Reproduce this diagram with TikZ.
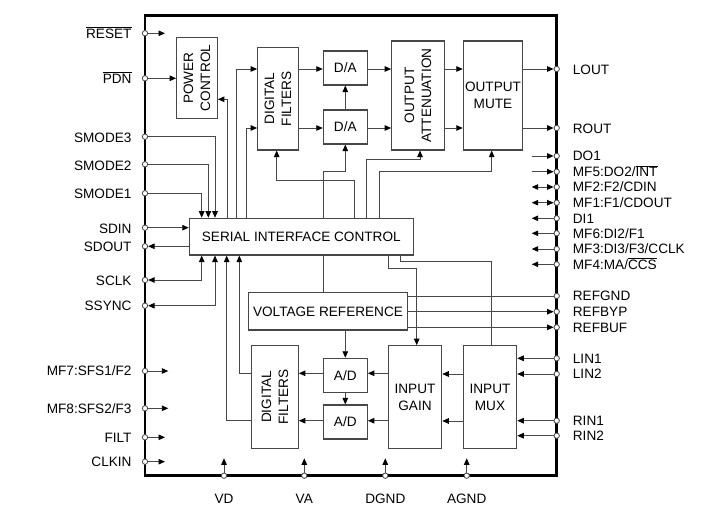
\documentclass[tikz,border=0pt]{standalone}
\usepackage{fontspec}
\setmainfont{Liberation Sans}
\usetikzlibrary{arrows.meta}
\begin{document}
\begin{tikzpicture}[x=1bp,y=-1bp,
  font=\fontsize{13.6bp}{17bp}\selectfont,
  ln/.style={draw=black!72, line width=0.9bp},
  tipa/.tip={Triangle[length=6.5bp,width=5.5bp,black]},
  arr/.style={ln, -tipa},
  barr/.style={ln, tipa-tipa},
  blk/.style={draw=black!72, line width=1.1bp, inner sep=0pt},
  txt/.style={inner sep=0pt, align=center},
  rtxt/.style={inner sep=0pt, align=center, rotate=90},
  pin/.style={circle, draw=black!72, fill=white, line width=0.8bp, inner sep=0pt, minimum size=5.4bp},
  lbl/.style={inner sep=0pt, text height=9.7bp, text depth=0bp}
]
\useasboundingbox (0,0) rectangle (720,516);

% chip outline
\node[draw=black, line width=2.6bp, minimum width=411.7bp, minimum height=460bp, inner sep=0pt] (chip) at (350.85,245.7) {};

% ---------- blocks ----------
\node[blk, minimum width=40.6bp, minimum height=80.6bp] (pc) at (197,78) {};
\node[rtxt] (pct) at (pc.center) {POWER\\CONTROL};
\node[blk, minimum width=40.6bp, minimum height=102.7bp] (df1) at (278,98.65) {};
\node[rtxt] (df1t) at (df1.center) {DIGITAL\\FILTERS};
\node[blk, minimum width=44bp, minimum height=34bp] (da1) at (345.3,68) {};
\node[txt] (da1t) at (da1.center) {D/A};
\node[blk, minimum width=44bp, minimum height=34bp] (da2) at (345.3,127) {};
\node[txt] (da2t) at (da2.center) {D/A};
\node[blk, minimum width=52.6bp, minimum height=109bp] (oa) at (418,95.5) {};
\node[rtxt] (oat) at (oa.center) {OUTPUT\\ATTENUATION};
\node[blk, minimum width=59.4bp, minimum height=109bp] (om) at (493,95.5) {};
\node[txt] (omt) at (om.center) {OUTPUT\\MUTE};
\node[blk, minimum width=224bp, minimum height=36.7bp] (sic) at (301.3,236.65) {};
\node[txt] (sict) at (sic.center) {SERIAL INTERFACE CONTROL};
\node[blk, minimum width=158.6bp, minimum height=37.3bp] (vref) at (328,311.35) {};
\node[txt] (vreft) at (vref.center) {VOLTAGE REFERENCE};
\node[blk, minimum width=46.6bp, minimum height=102.6bp] (df2) at (275,397) {};
\node[rtxt] (df2t) at (df2.center) {DIGITAL\\FILTERS};
\node[blk, minimum width=44bp, minimum height=34bp] (ad1) at (345.3,375.3) {};
\node[txt] (ad1t) at (ad1.center) {A/D};
\node[blk, minimum width=44bp, minimum height=34bp] (ad2) at (345.3,422) {};
\node[txt] (ad2t) at (ad2.center) {A/D};
\node[blk, minimum width=53.4bp, minimum height=102.6bp] (ig) at (415,397) {};
\node[txt] (igt) at (ig.center) {INPUT\\GAIN};
\node[blk, minimum width=53.4bp, minimum height=102.6bp] (im) at (490,397) {};
\node[txt] (imt) at (im.center) {INPUT\\MUX};

% ---------- left pins ----------
\foreach \n/\y in {RESET/33.3, PDN/78.3, SMODE3/136.7, SMODE2/164.3, SMODE1/193.3, SDIN/227.7, SDOUT/246.3, SCLK/280, SSYNC/305.7, MFsev/371, MFeig/408.3, FILT/437.3, CLKIN/461.7}
  \node[pin] (p\n) at (145,\y) {};
\node[lbl, anchor=east] (lRESET) at (131.7,33.3) {$\overline{\hbox{RESET}}$};
\node[lbl, anchor=east] (lPDN) at (131.7,78.3) {$\overline{\hbox{PDN}}$};
\node[lbl, anchor=east] (lSMODE3) at (131.7,137.5) {SMODE3};
\node[lbl, anchor=east] (lSMODE2) at (131.7,165.3) {SMODE2};
\node[lbl, anchor=east] (lSMODE1) at (131.7,194) {SMODE1};
\node[lbl, anchor=east] (lSDIN) at (131.7,228.5) {SDIN};
\node[lbl, anchor=east] (lSDOUT) at (131.7,246.5) {SDOUT};
\node[lbl, anchor=east] (lSCLK) at (131.7,281) {SCLK};
\node[lbl, anchor=east] (lSSYNC) at (131.7,305.7) {SSYNC};
\node[lbl, anchor=east] (lMFsev) at (131.7,371) {MF7:SFS1/F2};
\node[lbl, anchor=east] (lMFeig) at (131.7,408.3) {MF8:SFS2/F3};
\node[lbl, anchor=east] (lFILT) at (131.7,437.3) {FILT};
\node[lbl, anchor=east] (lCLKIN) at (131.7,461.7) {CLKIN};

% ---------- right pins ----------
\foreach \n/\y in {LOUT/69, ROUT/128, DOone/156, MFfive/171.7, MFtwo/187, MFone/202.7, DIone/218.3, MFsix/233.3, MFthree/249, MFfour/264.3, REFGND/296, REFBYP/311.7, REFBUF/327.3, LINone/358.3, LINtwo/374, RINone/420.7, RINtwo/435.7}
  \node[pin] (p\n) at (556.7,\y) {};
\node[lbl, anchor=west] (lLOUT) at (572.7,70) {LOUT};
\node[lbl, anchor=west] (lROUT) at (572.7,129) {ROUT};
\node[lbl, anchor=west] (lDOone) at (572.7,156) {DO1};
\node[lbl, anchor=west] (lMFfive) at (572.7,171.7) {MF5:DO2/$\overline{\hbox{INT}}$};
\node[lbl, anchor=west] (lMFtwo) at (572.7,187) {MF2:F2/CDIN};
\node[lbl, anchor=west] (lMFone) at (572.7,202.7) {MF1:F1/CDOUT};
\node[lbl, anchor=west] (lDIone) at (572.7,218.3) {DI1};
\node[lbl, anchor=west] (lMFsix) at (572.7,233.3) {MF6:DI2/F1};
\node[lbl, anchor=west] (lMFthree) at (572.7,249) {MF3:DI3/F3/CCLK};
\node[lbl, anchor=west] (lMFfour) at (572.7,264.3) {MF4:MA/$\overline{\hbox{CCS}}$};
\node[lbl, anchor=west] (lREFGND) at (572.7,296) {REFGND};
\node[lbl, anchor=west] (lREFBYP) at (572.7,311.7) {REFBYP};
\node[lbl, anchor=west] (lREFBUF) at (572.7,327.3) {REFBUF};
\node[lbl, anchor=west] (lLINone) at (572.7,358.3) {LIN1};
\node[lbl, anchor=west] (lLINtwo) at (572.7,374) {LIN2};
\node[lbl, anchor=west] (lRINone) at (572.7,420.7) {RIN1};
\node[lbl, anchor=west] (lRINtwo) at (572.7,435.7) {RIN2};

% ---------- bottom pins ----------
\foreach \n/\x in {VD/224, VA/304.3, DGND/385.3, AGND/466.7}{
  \node[pin] (p\n) at (\x,475.7) {};
  \coordinate (s\n) at (\x,458.3);
  \node[lbl] (l\n) at (\x,498.3) {\n};
  \draw[arr] (p\n) -- (s\n);
}

% ---------- free stub ends ----------
\coordinate (sRESET) at (165,33.3);
\coordinate (sMFsev) at (168.3,371);
\coordinate (sMFeig) at (168.3,408.3);
\coordinate (sFILT) at (165,437.3);
\coordinate (sCLKIN) at (165,461.7);
\foreach \n/\y in {DOone/156, MFfive/171.7, MFtwo/187, MFone/202.7, DIone/218.3, MFsix/233.3, MFthree/249, MFfour/264.3}
  \coordinate (s\n) at (531.7,\y);

% ---------- left pin connectors ----------
\draw[arr] (pRESET) -- (sRESET);
\draw[arr] (pPDN) -- (pc.west |- pPDN);
\draw[arr] (pSMODE3) -| (sic.north -| 215,0);
\draw[arr] (pSMODE2) -| (sic.north -| 208.3,0);
\draw[arr] (pSMODE1) -| (sic.north -| 201.7,0);
\draw[arr] (pSDIN) -- (sic.west |- pSDIN);
\draw[arr] (sic.west |- pSDOUT) -- (pSDOUT);
\draw[barr] (sic.south -| 201.7,0) |- (pSCLK);
\draw[barr] (sic.south -| 215,0) |- (pSSYNC);
\draw[arr] (pMFsev) -- (sMFsev);
\draw[arr] (pMFeig) -- (sMFeig);
\draw[arr] (pFILT) -- (sFILT);
\draw[arr] (pCLKIN) -- (sCLKIN);

% ---------- right pin connectors ----------
\draw[arr] (om.east |- pLOUT) -- (pLOUT);
\draw[arr] (om.east |- pROUT) -- (pROUT);
\draw[arr] (sDOone) -- (pDOone);
\draw[arr] (sMFfive) -- (pMFfive);
\draw[barr] (sMFtwo) -- (pMFtwo);
\draw[barr] (sMFone) -- (pMFone);
\draw[arr] (pDIone) -- (sDIone);
\draw[arr] (pMFsix) -- (sMFsix);
\draw[arr] (pMFthree) -- (sMFthree);
\draw[arr] (pMFfour) -- (sMFfour);
\draw[ln] (vref.east |- pREFGND) -- (pREFGND);
\draw[arr] (vref.east |- pREFBYP) -- (pREFBYP);
\draw[arr] (vref.east |- pREFBUF) -- (pREFBUF);
\draw[arr] (pLINone) -- (im.east |- pLINone);
\draw[arr] (pLINtwo) -- (im.east |- pLINtwo);
\draw[arr] (pRINone) -- (im.east |- pRINone);
\draw[arr] (pRINtwo) -- (im.east |- pRINtwo);

% ---------- DAC path ----------
\draw[arr] (sic.north -| 227.3,0) |- (pc.east |- 0,99.3);
\draw[arr] (sic.north -| 236,0) |- (df1.west |- 0,69);
\draw[arr] (sic.north -| 246,0) |- (df1.west |- 0,128);
\draw[arr] (sic.north -| 354.3,0) |- (276.7,180.7) -- (df1.south -| 276.7,0);
\draw[arr] (sic.north -| 323.3,0) |- (345.3,171.7) -- (da2.south);
\draw[arr] (sic.north -| 366.7,0) |- (420,159.3) -- (oa.south -| 420,0);
\draw[arr] (sic.north -| 379.3,0) |- (491.7,171.7) -- (om.south -| 491.7,0);
\draw[arr] (da2.north) -- (da1.south);
\draw[arr] (df1.east |- 0,69) -- (da1.west |- 0,69);
\draw[arr] (df1.east |- 0,128) -- (da2.west |- 0,128);
\draw[arr] (da1.east |- 0,69) -- (oa.west |- 0,69);
\draw[arr] (da2.east |- 0,128) -- (oa.west |- 0,128);
\draw[arr] (oa.east |- 0,69) -- (om.west |- 0,69);
\draw[arr] (oa.east |- 0,128) -- (om.west |- 0,128);

% ---------- ADC path ----------
\draw[arr] (df2.west |- 0,420.7) -| (sic.south -| 226.7,0);
\draw[arr] (df2.west |- 0,373.3) -| (sic.south -| 239.3,0);
\draw[ln] (sic.south -| 323.3,0) -- (vref.north -| 323.3,0);
\draw[arr] (vref.south -| ad1.north) -- (ad1.north);
\draw[arr] (ad1.south) -- (ad2.north);
\draw[arr] (ad1.west |- 0,373.3) -- (df2.east |- 0,373.3);
\draw[arr] (ad2.west |- 0,420.7) -- (df2.east |- 0,420.7);
\draw[arr] (ig.west |- 0,373.3) -- (ad1.east |- 0,373.3);
\draw[arr] (ig.west |- 0,420.7) -- (ad2.east |- 0,420.7);
\draw[arr] (im.west |- 0,374) -- (ig.east |- 0,374);
\draw[arr] (im.west |- 0,421) -- (ig.east |- 0,421);
\draw[arr] (sic.south -| 388.7,0) |- (416.7,268.3) -- (ig.north -| 416.7,0);
\draw[ln] (sic.south -| 400.7,0) |- (491,261.7) -- (im.north -| 491,0);

\end{tikzpicture}
\end{document}
